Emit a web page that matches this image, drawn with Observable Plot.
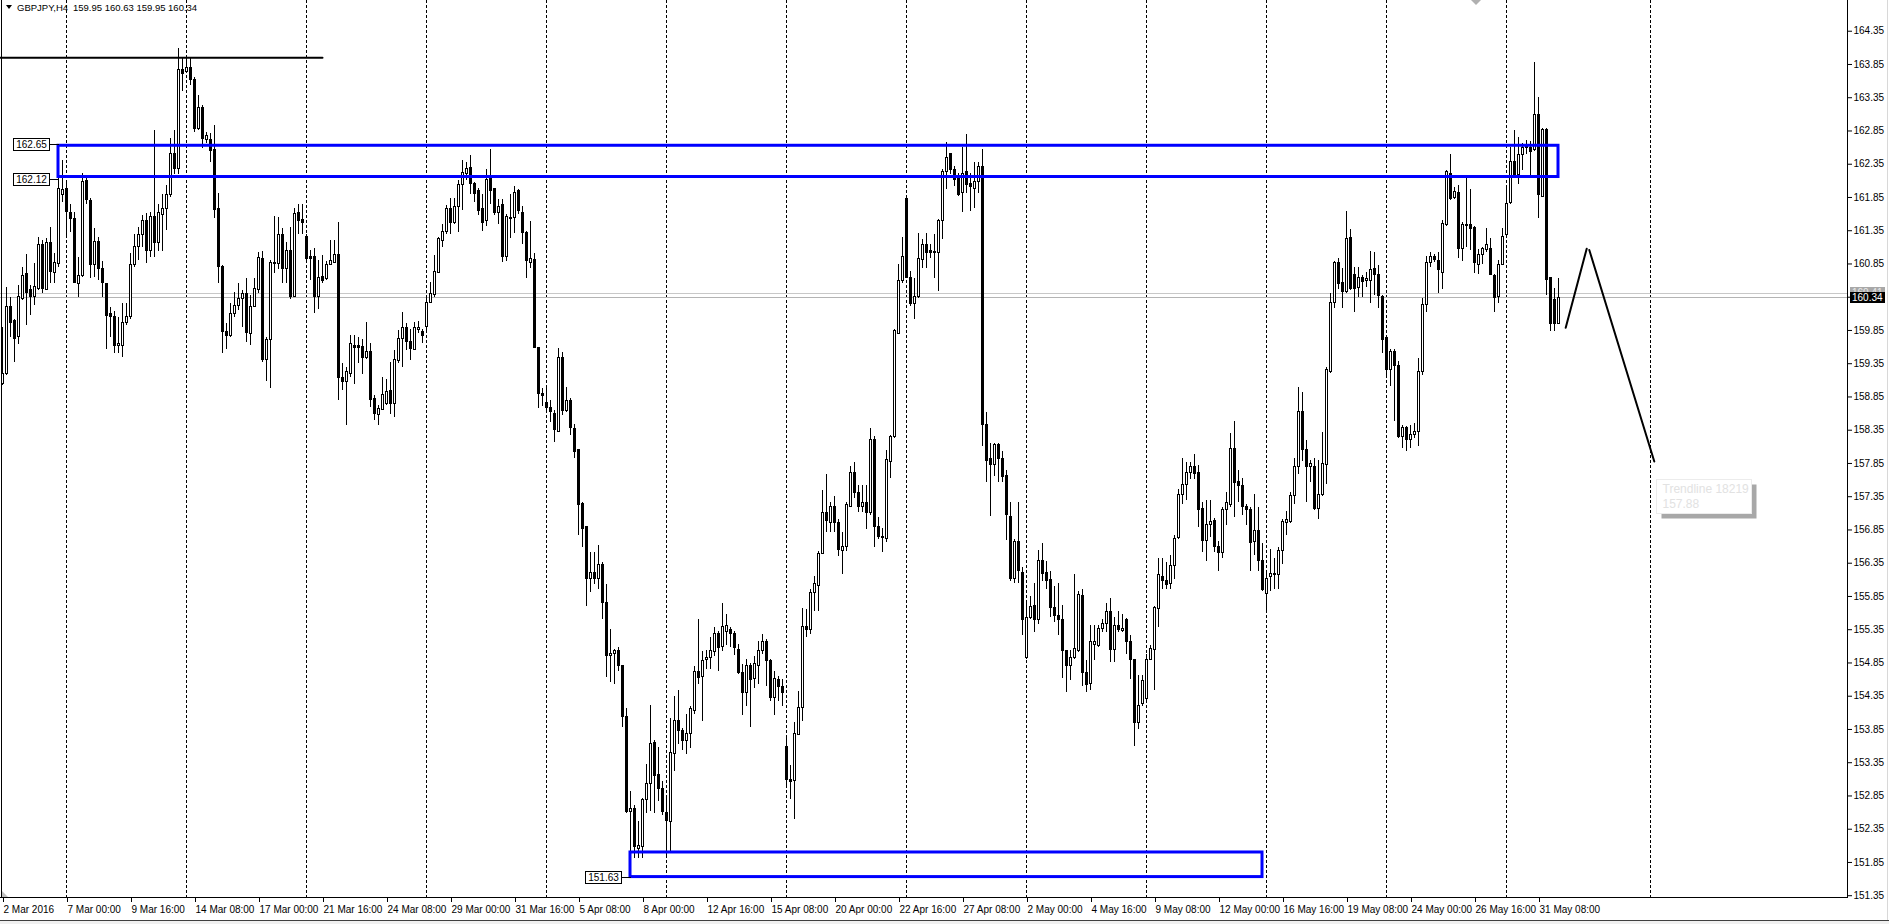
<!DOCTYPE html>
<html><head><meta charset="utf-8">
<script src="https://cdn.jsdelivr.net/npm/d3@7"></script>
<script src="https://cdn.jsdelivr.net/npm/@observablehq/plot@0.6"></script>
<style>
html,body{margin:0;padding:0;background:#fff;}
#chart{position:relative;width:1889px;height:924px;overflow:hidden;background:#fff;}
svg{display:block;}
</style></head><body><div id="chart"></div>
<script>
// ---------- data ----------
const symbolTitle = "GBPJPY,H4";
const headerQuote = "159.95 160.63 159.95 160.34";
const firstBar = 2; // bar index of first visible H4 candle (2 Mar 2016 08:00)

const open = [
159.05,159.19,160.20,159.99,159.75,160.32,160.70,160.46,160.35,160.47,
161.14,160.46,161.17,160.72,160.85,161.88,161.97,161.62,161.52,160.55,
160.67,162.10,161.79,160.83,161.18,160.78,160.55,160.10,160.06,159.61,
159.62,159.96,160.06,160.83,161.10,161.28,161.50,161.04,161.56,161.16,
161.59,161.68,161.89,162.50,162.28,163.77,163.74,163.79,163.61,162.88,
163.19,162.72,162.72,162.57,161.67,160.81,159.83,159.76,160.10,160.22,
160.33,160.40,159.80,160.21,160.46,160.93,159.40,159.70,160.85,160.85,
161.29,160.78,161.05,160.36,161.61,161.51,161.26,160.95,160.95,160.35,
160.65,160.62,160.84,160.87,160.99,159.14,159.07,159.19,159.62,159.61,
159.60,159.43,159.53,158.82,158.58,158.65,158.74,158.94,158.74,159.39,
159.72,159.88,159.67,159.56,159.85,159.83,159.90,160.26,160.38,160.71,
161.20,161.33,161.68,161.46,161.70,162.03,162.21,162.29,162.05,161.95,
161.67,161.49,162.16,161.97,161.62,161.73,160.95,161.52,161.54,161.94,
161.62,161.31,160.87,160.91,159.59,158.89,158.76,158.68,158.59,158.33,
159.43,158.64,158.79,158.37,158.05,157.24,156.89,156.12,156.21,156.12,
156.32,155.75,154.96,154.99,155.03,154.81,154.04,152.61,152.66,152.05,
152.08,152.79,153.03,153.65,153.16,152.96,152.59,152.46,153.48,153.98,
153.82,153.67,153.78,154.13,154.72,154.64,154.89,154.93,155.02,155.29,
155.09,155.32,155.34,155.29,155.05,154.70,154.40,154.81,154.61,154.81,
155.03,155.17,154.88,154.32,154.59,154.49,153.59,153.09,153.07,153.77,
154.17,155.39,155.35,155.90,156.01,156.49,157.10,156.96,157.20,156.96,
156.54,156.59,157.20,157.71,157.41,157.20,157.26,157.11,158.20,156.89,
156.75,156.72,157.87,158.25,159.80,160.59,161.82,160.64,160.25,160.36,
160.91,161.14,161.04,161.03,161.02,161.49,162.23,162.50,162.27,162.18,
161.91,162.23,162.06,161.98,162.08,162.31,158.43,157.92,157.82,158.13,
157.92,157.66,157.05,156.11,156.67,156.21,154.93,155.52,155.71,155.50,
156.38,156.21,156.10,155.67,155.56,155.49,155.03,154.81,154.93,155.03,
155.85,154.70,154.53,155.12,155.10,155.36,155.44,155.62,155.04,155.41,
155.33,155.50,155.16,154.89,153.95,154.24,154.31,154.90,155.04,155.66,
156.15,156.09,156.04,156.31,156.73,157.38,157.52,157.71,157.79,157.71,
157.17,156.69,156.92,156.99,156.59,156.51,157.15,157.23,158.07,157.57,
157.51,157.19,157.15,156.67,156.84,156.38,155.88,156.15,156.18,156.18,
156.54,156.96,156.97,157.36,157.79,158.63,158.05,157.79,157.80,157.17,
157.38,157.83,159.22,160.27,160.86,160.56,160.43,161.24,160.68,160.49,
160.64,160.60,160.60,160.77,160.68,160.35,159.74,159.26,159.53,159.32,
158.25,158.38,158.20,158.28,158.32,159.22,160.24,160.86,160.95,160.89,
160.71,161.44,162.21,161.84,161.91,161.07,161.42,161.44,161.39,160.84,
160.98,161.06,161.07,160.67,160.35,160.84,161.28,161.77,162.38,162.19,
162.49,162.59,162.60,162.57,163.09,161.86,162.86,160.64,160.31,159.95];

const high = [
159.90,160.50,160.35,160.02,160.52,160.80,160.99,160.52,160.85,161.25,
161.20,161.23,161.40,161.00,162.13,162.41,162.11,161.75,161.63,160.95,
162.21,162.16,161.83,161.38,161.25,160.88,160.56,160.20,160.13,160.05,
160.25,160.26,161.00,161.30,161.40,161.58,161.61,161.63,162.86,161.75,
161.90,162.03,162.73,162.86,164.09,163.94,163.99,163.96,163.66,163.39,
163.24,162.83,162.81,162.93,161.91,160.83,159.95,160.25,160.42,160.56,
160.45,160.63,160.37,160.63,161.02,161.03,159.75,160.90,161.56,161.55,
161.38,161.18,161.40,161.68,161.75,161.75,161.30,161.05,161.08,160.90,
160.98,160.88,161.20,161.20,161.48,159.35,159.30,159.77,159.77,159.75,
159.72,159.97,159.65,158.87,158.72,159.14,159.12,159.37,159.55,159.85,
160.12,159.95,159.87,159.97,159.98,159.87,160.35,160.57,160.98,161.25,
161.45,161.73,161.83,161.83,162.10,162.41,162.38,162.48,162.08,161.98,
161.90,162.27,162.57,161.98,161.82,161.82,161.60,161.90,162.01,161.97,
161.71,161.34,161.49,161.00,159.60,158.98,158.97,158.79,158.64,159.58,
159.52,158.99,158.83,158.43,158.05,157.26,156.89,156.51,156.51,156.62,
156.36,156.03,155.35,155.05,155.09,154.81,154.16,152.92,152.70,152.47,
152.81,153.33,154.21,153.68,153.58,153.07,152.81,154.01,154.34,154.43,
153.86,154.08,154.19,154.79,155.50,155.02,155.03,155.24,155.39,155.32,
155.74,155.58,155.39,155.32,155.13,154.83,154.90,154.84,154.94,155.17,
155.28,155.20,154.90,154.72,154.64,154.60,153.76,153.31,153.95,154.42,
155.67,155.65,155.95,156.15,156.53,157.45,157.69,157.27,157.35,157.00,
156.81,157.26,157.80,157.86,157.52,157.52,157.52,158.37,158.25,157.04,
156.87,158.05,158.27,159.86,160.84,161.25,161.85,160.74,160.63,161.31,
161.22,161.31,161.15,161.30,161.52,162.27,162.68,162.51,162.31,162.21,
162.60,162.80,162.21,162.37,162.37,162.57,158.61,158.15,158.15,158.15,
158.03,157.74,157.27,156.70,157.27,156.28,155.77,155.85,156.05,156.54,
156.64,156.38,156.23,156.00,156.05,155.71,155.04,155.04,156.18,155.92,
155.95,154.89,155.42,155.42,155.42,155.50,155.75,155.82,155.54,155.62,
155.58,155.52,155.27,154.90,154.66,154.66,154.97,155.12,155.70,156.42,
156.42,156.36,156.46,156.77,157.46,157.92,157.86,157.86,157.99,157.82,
157.27,157.30,157.30,157.02,156.67,157.19,157.42,158.30,158.48,157.74,
157.63,157.23,157.19,157.38,157.19,156.65,156.19,156.56,156.42,156.58,
157.00,157.13,157.42,157.92,158.99,158.92,158.20,157.89,157.92,157.90,
158.32,159.30,160.41,160.89,160.93,160.78,161.64,161.37,160.79,160.79,
160.68,160.72,161.04,161.02,160.83,160.37,159.76,159.57,159.57,159.38,
158.42,158.40,158.42,158.45,159.43,160.33,160.96,161.02,160.99,161.02,
161.51,162.25,162.50,162.00,162.03,161.48,162.14,161.97,161.42,161.07,
161.10,161.39,161.23,160.69,160.90,161.39,161.99,162.60,162.86,162.75,
162.66,162.71,162.69,163.88,163.35,162.88,162.88,160.65,160.48,160.63];

const low = [
159.02,159.17,159.75,159.37,159.64,160.30,159.92,160.07,160.22,160.45,
160.40,160.45,160.55,160.55,160.79,161.78,161.28,161.33,160.55,160.35,
160.65,161.75,160.63,160.65,160.60,160.35,159.56,159.75,159.50,159.51,
159.44,159.92,160.02,160.80,160.90,161.10,160.85,160.95,160.95,161.03,
161.03,161.35,161.85,162.20,162.20,163.44,163.71,163.54,162.83,162.86,
162.58,162.66,162.38,161.53,160.55,159.50,159.57,159.75,160.05,160.15,
159.90,159.67,159.62,160.20,160.40,159.37,159.09,158.97,160.70,160.77,
160.55,160.55,160.32,160.35,161.30,161.30,160.90,160.60,160.10,160.17,
160.55,160.60,160.83,160.85,158.79,158.94,158.42,159.14,159.04,159.35,
159.19,159.42,158.69,158.49,158.42,158.64,158.72,158.59,158.54,159.35,
159.30,159.55,159.40,159.55,159.80,159.65,159.80,160.25,160.35,160.70,
161.10,161.30,161.30,161.45,161.33,161.65,162.10,161.90,161.78,161.58,
161.34,161.41,161.75,161.58,161.45,160.87,160.89,161.24,161.31,161.60,
161.15,160.63,160.78,159.58,158.68,158.70,158.61,158.46,158.16,158.31,
158.57,158.61,158.27,157.93,156.77,156.59,155.70,155.91,156.03,155.95,
155.50,154.63,154.55,154.53,154.72,153.88,152.58,151.63,151.91,151.91,
151.91,152.59,152.62,152.59,152.77,152.55,151.95,151.99,153.22,153.63,
153.53,153.48,153.56,154.08,154.53,153.97,154.75,154.75,154.94,154.72,
155.02,155.11,155.09,154.96,154.68,154.06,154.19,153.88,154.46,154.53,
154.98,154.49,154.27,154.06,154.27,154.20,152.96,152.79,152.49,153.76,
153.97,155.24,155.28,155.62,155.62,156.48,156.81,156.81,156.81,156.45,
156.18,156.53,157.19,157.33,157.11,157.11,156.85,157.07,156.59,156.70,
156.51,156.66,157.63,158.23,159.79,160.55,160.63,160.21,160.01,160.33,
160.78,160.78,160.93,160.63,160.44,161.22,161.97,162.20,162.01,161.86,
161.62,161.91,161.64,161.68,161.91,158.11,157.57,157.05,157.65,157.56,
157.56,156.69,156.07,156.05,156.05,155.26,154.90,155.50,155.31,155.43,
156.08,155.96,155.54,155.46,155.27,154.62,154.41,154.58,154.90,155.00,
154.50,154.41,154.43,154.89,155.08,155.31,155.31,154.85,154.85,155.31,
155.31,154.98,154.60,153.60,153.85,154.20,154.29,154.89,154.43,155.39,
155.95,155.95,155.96,156.11,156.71,157.23,157.30,157.61,157.61,156.88,
156.51,156.38,156.73,156.51,156.23,156.42,156.92,157.19,157.04,157.27,
157.07,156.92,156.23,156.46,156.23,155.92,155.62,155.92,155.95,155.95,
156.33,156.77,156.94,157.23,157.69,157.88,157.27,157.57,157.15,157.00,
157.36,157.53,159.20,160.18,160.47,160.18,160.41,160.45,160.12,160.35,
160.35,160.50,160.26,160.37,160.18,159.51,159.18,159.01,158.48,158.22,
158.07,158.03,158.07,158.22,158.11,159.18,160.12,160.79,160.87,160.41,
160.47,161.42,161.80,161.82,160.93,160.88,161.10,161.06,160.71,160.69,
160.84,161.02,160.67,160.12,160.25,160.83,161.23,161.74,162.17,162.05,
162.26,162.50,162.15,162.54,161.53,161.85,160.38,159.83,159.83,159.95];

const close = [
159.19,160.20,159.96,159.72,160.35,160.67,160.42,160.35,160.50,161.14,
160.47,161.17,160.73,160.87,161.97,161.96,161.63,161.53,160.57,160.67,
162.08,161.81,160.84,161.18,160.78,160.57,160.07,160.05,159.62,159.65,
159.96,160.06,160.84,161.10,161.28,161.50,161.04,161.56,161.16,161.61,
161.67,161.88,162.50,162.28,163.77,163.70,163.79,163.61,162.88,163.19,
162.73,162.77,162.55,161.66,160.80,159.82,159.76,160.10,160.22,160.33,
160.40,159.81,160.21,160.47,160.94,159.40,159.71,160.86,160.87,161.29,
160.78,161.05,160.36,161.60,161.50,161.46,160.92,160.92,160.35,160.64,
160.60,160.84,160.89,160.98,159.13,159.07,159.22,159.64,159.59,159.59,
159.43,159.53,158.80,158.59,158.67,158.88,158.92,158.74,159.40,159.72,
159.88,159.67,159.57,159.88,159.89,159.77,160.27,160.40,160.73,161.23,
161.33,161.68,161.46,161.70,162.04,162.22,162.28,162.05,161.90,161.65,
161.46,162.12,161.94,161.62,161.71,160.95,161.56,161.54,161.91,161.64,
161.31,160.89,160.93,159.58,158.89,158.87,158.68,158.62,158.35,159.43,
158.64,158.79,158.38,158.02,157.22,156.87,156.12,156.21,156.12,156.32,
155.75,154.96,154.99,155.03,154.81,154.03,152.61,152.66,152.08,152.10,
152.79,153.03,153.63,153.15,152.96,152.61,152.47,153.50,153.98,153.83,
153.68,153.78,154.16,154.72,154.63,154.88,154.92,155.03,155.28,155.08,
155.39,155.41,155.29,155.08,154.70,154.40,154.81,154.59,154.83,155.03,
155.17,154.88,154.33,154.61,154.49,154.40,153.09,153.07,153.78,154.18,
155.39,155.35,155.90,156.03,156.49,157.10,156.98,157.20,156.96,156.55,
156.60,157.22,157.71,157.40,157.19,157.26,157.11,158.20,156.89,156.75,
156.74,157.90,158.25,159.84,160.59,160.96,160.64,160.25,160.36,160.93,
161.14,161.02,161.02,161.02,161.49,162.23,162.44,162.27,162.12,161.88,
162.21,162.04,162.01,162.08,162.31,158.43,157.88,157.82,158.13,157.92,
157.65,157.07,156.11,156.67,156.23,155.50,155.52,155.69,155.50,156.38,
156.19,156.08,155.67,155.56,155.49,155.03,154.81,154.93,155.06,155.87,
154.70,154.52,155.16,155.16,155.36,155.44,155.62,155.04,155.41,155.35,
155.36,155.16,154.89,153.95,154.21,154.58,154.90,155.06,155.67,156.18,
156.08,156.02,156.31,156.71,157.38,157.52,157.71,157.79,157.69,157.15,
156.69,156.92,156.97,156.59,156.51,157.15,157.25,158.07,157.56,157.51,
157.19,157.15,156.65,156.84,156.38,155.95,156.12,156.19,156.19,156.54,
156.97,157.00,157.36,157.79,158.63,158.05,157.79,157.84,157.17,157.38,
157.84,159.26,160.27,160.86,160.55,160.43,161.22,160.47,160.47,160.64,
160.58,160.63,160.76,160.68,160.37,159.71,159.26,159.53,159.32,158.25,
158.38,158.20,158.28,158.32,159.22,160.24,160.86,160.95,160.91,160.76,
161.45,162.23,161.82,161.93,161.07,161.44,161.44,161.38,160.86,160.99,
161.07,161.13,160.69,160.34,160.84,161.26,161.75,162.38,162.19,162.49,
162.60,162.61,162.54,163.09,161.88,162.86,160.61,159.95,159.94,160.34];

const priceTicks = [164.35,163.85,163.35,162.85,162.35,161.85,161.35,160.85,160.35,159.85,159.35,158.85,158.35,157.85,157.35,156.85,156.35,155.85,155.35,154.85,154.35,153.85,153.35,152.85,152.35,151.85,151.35];
const dateTickBars = [2,18,34,50,66,82,98,114,130,146,162,178,194,210,226,242,258,274,290,306,322,338,354,370,386];
const dateTickLabels = ["2 Mar 2016","7 Mar 00:00","9 Mar 16:00","14 Mar 08:00","17 Mar 00:00","21 Mar 16:00","24 Mar 08:00","29 Mar 00:00","31 Mar 16:00","5 Apr 08:00","8 Apr 00:00","12 Apr 16:00","15 Apr 08:00","20 Apr 00:00","22 Apr 16:00","27 Apr 08:00","2 May 00:00","4 May 16:00","9 May 08:00","12 May 00:00","16 May 16:00","19 May 08:00","24 May 00:00","26 May 16:00","31 May 08:00"];
const weekSeparatorBars = [18,48,78,108,138,168,198,228,258,288,318,348,378,413.9];

const resistanceBox = {bar1: 16, bar2: 391, low: 162.12, high: 162.65};
const supportBox = {bar1: 159, bar2: 317, low: 151.63, high: 152.00};
const topLevel = [{bar: -40, price: 163.95}, {bar: 82, price: 163.95}];
const trendUp = [{bar: 392.8, price: 159.89}, {bar: 398.05, price: 161.08}];
const trendDown = [{bar: 398.7, price: 161.06}, {bar: 414.95, price: 157.88}];
const askPrice = 160.41, bidPrice = 160.34;
const trendTip = ["Trendline 18219", "157.88"];

// ---------- build ----------
const candles = open.map((o, i) => ({j: firstBar + i, o, h: high[i], l: low[i], c: close[i]}));
const bulls = candles.filter(d => d.c >= d.o);
const bears = candles.filter(d => d.c < d.o);
const labelOf = new Map(dateTickBars.map((b, i) => [b, dateTickLabels[i]]));

const W = 1889, H = 924, mR = 42, mB = 26;
const FONT = "'Liberation Sans', Arial, sans-serif";

const plot = Plot.plot({
  width: W, height: H,
  marginLeft: 0, marginRight: mR, marginTop: 0, marginBottom: mB,
  style: {fontFamily: FONT, fontSize: "10px", background: "#fff", color: "#000"},
  x: {type: "linear", domain: [1.5, 463.25], axis: null},
  y: {type: "linear", domain: [151.308, 164.812], axis: null},
  marks: [
    Plot.ruleX(weekSeparatorBars, {stroke: "#000", strokeWidth: 1, strokeDasharray: "3,2", shapeRendering: "crispEdges"}),
    Plot.ruleY([askPrice], {stroke: "#c8c8c8", shapeRendering: "crispEdges"}),
    Plot.ruleY([bidPrice], {stroke: "#b4b4b4", shapeRendering: "crispEdges"}),
    Plot.line(topLevel, {x: "bar", y: "price", stroke: "#000", strokeWidth: 2, clip: true}),
    Plot.ruleX(candles, {x: "j", y1: "l", y2: "h", stroke: "#000", strokeWidth: 1, shapeRendering: "crispEdges"}),
    Plot.rect(bulls, {x1: d => d.j - 0.25, x2: d => d.j + 0.25, y1: "o", y2: "c", fill: "#fff", stroke: "#000", strokeWidth: 1, shapeRendering: "crispEdges"}),
    Plot.rect(bears, {x1: d => d.j - 0.25, x2: d => d.j + 0.25, y1: "c", y2: "o", fill: "#000", stroke: "#000", strokeWidth: 1, shapeRendering: "crispEdges"}),
    Plot.ruleY(candles.filter(d => Math.abs(d.c - d.o) < 0.03), {x1: d => d.j - 0.375, x2: d => d.j + 0.375, y: "c", stroke: "#000", shapeRendering: "crispEdges"}),
    Plot.rect([resistanceBox], {x1: "bar1", x2: "bar2", y1: "low", y2: "high", fill: "none", stroke: "#0000ff", strokeWidth: 3, insetTop: 1.5, insetBottom: 2.5}),
    Plot.rect([supportBox], {x1: "bar1", x2: "bar2", y1: "low", y2: "high", fill: "none", stroke: "#0000ff", strokeWidth: 3}),
    Plot.line(trendUp, {x: "bar", y: "price", stroke: "#000", strokeWidth: 2}),
    Plot.line(trendDown, {x: "bar", y: "price", stroke: "#000", strokeWidth: 2}),
    Plot.axisY(priceTicks, {anchor: "right", tickSize: 4, tickPadding: 2, tickFormat: d => d.toFixed(2), fontSize: 10}),
    Plot.axisX(dateTickBars, {anchor: "bottom", tickSize: 4, tickPadding: 3, tickFormat: d => labelOf.get(d), textAnchor: "start", dx: 1, fontSize: 10})
  ]
});

document.getElementById("chart").appendChild(plot);

// ---------- decorations using the plot's scales ----------
const xs = plot.scale("x"), ys = plot.scale("y");
const svg = d3.select(plot);
const right = W - mR, bottom = H - mB;
const g = svg.append("g").attr("shape-rendering", "crispEdges");

function addText(parent, x, y, txt, size, fill, anchor) {
  return parent.append("text").attr("x", x).attr("y", y).attr("dy", "0.35em")
    .attr("text-anchor", anchor || "start").attr("font-family", FONT)
    .attr("font-size", size).attr("fill", fill).text(txt);
}

// chart frame (left, bottom, right)
g.append("line").attr("x1", 1.5).attr("x2", 1.5).attr("y1", 0).attr("y2", bottom).attr("stroke", "#000");
g.append("line").attr("x1", 0).attr("x2", right + 1).attr("y1", bottom - 0.5).attr("y2", bottom - 0.5).attr("stroke", "#000");
g.append("line").attr("x1", right + 0.5).attr("x2", right + 0.5).attr("y1", 0).attr("y2", bottom).attr("stroke", "#000");
// window bottom edge
g.append("line").attr("x1", 0).attr("x2", W).attr("y1", H - 3.5).attr("y2", H - 3.5).attr("stroke", "#404040");
g.append("rect").attr("x", 0).attr("y", H - 3).attr("width", W).attr("height", 3).attr("fill", "#f0f0f0");
g.append("line").attr("x1", W - 1.5).attr("x2", W - 1.5).attr("y1", 0).attr("y2", H - 4).attr("stroke", "#d8d8d8");

// small markers (scale fix / chart shift)
svg.append("path").attr("d", `M2,${bottom - 7}L2,${bottom - 1}L8,${bottom - 1}Z`).attr("fill", "#c0c0c0");
svg.append("path").attr("d", "M1471,0L1481,0L1476,5Z").attr("fill", "#b0b0b0");

// price tags next to the boxes
function priceTag(bar, price, txt) {
  const ax = xs.apply(bar) + 0.5, ay = Math.round(ys.apply(price)) + 0.5;
  const tg = svg.append("g");
  tg.append("line").attr("x1", ax - 10).attr("x2", ax).attr("y1", ay).attr("y2", ay).attr("stroke", "#000").attr("shape-rendering", "crispEdges");
  tg.append("rect").attr("x", Math.round(ax - 46) + 0.5).attr("y", ay - 6).attr("width", 36).attr("height", 12)
    .attr("fill", "#fff").attr("stroke", "#000").attr("shape-rendering", "crispEdges");
  addText(tg, Math.round(ax - 46) + 18.5, ay, txt, 10, "#000", "middle");
}
priceTag(resistanceBox.bar1, resistanceBox.high, resistanceBox.high.toFixed(2));
priceTag(resistanceBox.bar1, resistanceBox.low, resistanceBox.low.toFixed(2));
priceTag(supportBox.bar1, supportBox.low, supportBox.low.toFixed(2));

// ask / bid labels on price axis
function axisTag(price, bg, fg) {
  const ay = ys.apply(price);
  svg.append("rect").attr("x", right + 3).attr("y", Math.round(ay - 5.5)).attr("width", 35).attr("height", 11).attr("fill", bg);
  addText(svg, right + 5, ay, price.toFixed(2), 10, fg, "start");
}
axisTag(askPrice, "#a8a8a8", "#e8e8e8");
axisTag(bidPrice, "#000", "#fff");

// trendline tooltip
{
  const ex = xs.apply(trendDown[1].bar), ey = ys.apply(trendDown[1].price);
  const bx = Math.round(ex + 2) + 0.5, by = Math.round(ey + 18) + 0.5, bw = 95, bh = 34;
  svg.append("rect").attr("x", bx + 5).attr("y", by + 5).attr("width", bw).attr("height", bh).attr("fill", "#a8a8a8");
  svg.append("rect").attr("x", bx).attr("y", by).attr("width", bw).attr("height", bh).attr("fill", "#fff").attr("stroke", "#ececec");
  addText(svg, bx + 6, by + 9.5, trendTip[0], 12, "#e2e2e2", "start");
  addText(svg, bx + 6, by + 24.5, trendTip[1], 12, "#e2e2e2", "start");
}

// header
svg.append("path").attr("d", "M6,5L12,5L9,9Z").attr("fill", "#000");
addText(svg, 17, 7.5, symbolTitle, 9.5, "#000", "start");
addText(svg, 73, 7.5, headerQuote, 9.5, "#000", "start");
</script>
</body></html>
